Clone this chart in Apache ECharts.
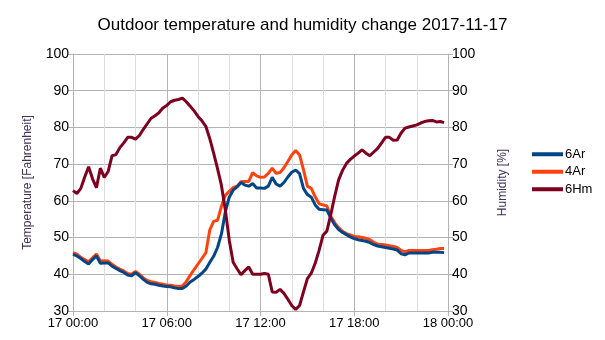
<!DOCTYPE html>
<html><head><meta charset="utf-8">
<script src="https://cdn.jsdelivr.net/npm/echarts@6/dist/echarts.min.js"></script>
<style>html,body{margin:0;padding:0;background:#fff}#c{width:605px;height:340px}</style>
</head><body><div id="c"></div>
<script>
var title = 'Outdoor temperature and humidity change 2017-11-17';
var seriesNames = ['6Ar', '4Ar', '6Hm'];
// sample times in hours since 2017-11-17 00:00 (15-minute readings)
var hours = [0,0.25,0.5,0.75,1,1.25,1.5,1.75,2,2.25,2.5,2.75,3,3.25,3.5,3.75,4,4.25,4.5,4.75,5,5.25,5.5,5.75,
  6,6.25,6.5,6.75,7,7.25,7.5,7.75,8,8.25,8.5,8.75,9,9.25,9.5,9.75,10,10.25,10.5,10.75,11,11.25,11.5,11.75,
  12,12.25,12.5,12.75,13,13.25,13.5,13.75,14,14.25,14.5,14.75,15,15.25,15.5,15.75,16,16.25,16.5,16.75,17,17.25,17.5,17.75,
  18,18.25,18.5,18.75,19,19.25,19.5,19.75,20,20.25,20.5,20.75,21,21.25,21.5,21.75,22,22.25,22.5,22.75,23,23.25,23.5,23.75];
var temp6Ar = [45.4,45.0,44.3,43.5,42.8,44.0,45.0,43.0,43.1,43.1,42.2,41.6,41.0,40.5,39.8,39.6,40.4,39.6,38.6,37.8,37.4,37.3,37.0,36.8,
  36.7,36.6,36.3,36.1,36.1,36.8,37.9,38.6,39.4,40.3,41.4,43.2,44.9,47.3,51.0,57.0,61.0,62.9,63.8,65.0,64.3,64.0,64.7,63.5,
  63.5,63.4,64.0,66.4,64.6,64.0,65.0,66.5,67.8,68.4,67.4,63.4,61.7,61.0,58.9,57.7,57.6,57.5,55.3,53.5,52.2,51.4,50.8,50.2,
  49.7,49.4,49.2,49.0,48.6,48.1,47.7,47.5,47.3,47.1,46.9,46.6,45.6,45.3,45.8,45.8,45.8,45.8,45.8,45.8,46.0,46.0,46.0,45.9];
var temp4Ar = [45.9,45.5,44.6,44.0,43.4,44.5,45.5,43.6,43.7,43.6,42.7,42.0,41.4,40.9,40.2,40.0,40.8,40.0,39.0,38.3,38.0,37.8,37.5,37.3,
  37.1,37.0,36.8,36.7,36.8,38.0,39.7,41.3,42.8,44.3,45.8,52.0,54.4,54.7,58.5,61.5,62.6,63.6,64.0,65.2,65.3,65.3,67.7,66.8,
  66.4,66.5,67.5,68.9,67.5,67.7,69.0,70.7,72.5,73.7,72.5,68.5,64.0,63.4,61.1,59.2,58.9,58.6,55.8,54.0,52.7,51.7,51.1,50.7,
  50.3,50.2,50.0,49.8,49.4,48.7,48.2,48.1,48.0,47.8,47.6,47.3,46.5,46.1,46.5,46.5,46.5,46.5,46.5,46.5,46.7,46.8,47.0,47.0];
var hum6Hm = [62.8,62.0,63.4,66.5,69.3,66.0,63.6,68.9,66.4,68.0,72.3,72.6,74.5,75.8,77.3,77.3,76.8,77.8,79.5,81.0,82.5,83.2,84.0,85.3,
  86.0,87.0,87.4,87.6,88.0,87.0,85.8,84.5,83.0,81.8,80.3,77.0,73.0,68.8,64.2,57.5,49.3,43.3,41.5,39.9,41.0,42.0,40.0,40.0,
  40.0,40.2,40.0,35.2,35.1,35.9,34.8,33.2,31.5,30.4,31.5,35.2,38.8,40.3,43.0,46.5,50.6,51.8,56.3,61.3,65.7,68.3,70.2,71.3,
  72.2,73.0,73.9,73.0,72.3,73.3,74.3,75.8,77.3,77.3,76.5,76.6,78.5,79.8,80.1,80.4,80.7,81.2,81.6,81.8,81.9,81.5,81.6,81.3];
var xLabels = {0:'17 00:00', 6:'17 06:00', 12:'17 12:00', 18:'17 18:00', 24:'18 00:00'};

function pairs(vals){ return vals.map(function(v,i){ return [hours[i], v]; }); }
var colors = ['#004586', '#ff420e', '#7e0021'];
var font = 'Liberation Sans, Arial, sans-serif';
var gridCol = '#b3b3b3';
function yAxis(name, pos){
  return {
    type:'value', position:pos, min:30, max:100, interval:10,
    name:name, nameLocation:'middle', nameRotate:90, nameGap: pos==='left'?39:49,
    nameTextStyle:{color:'#3f3157', fontSize:12, fontFamily:font},
    axisLine:{show:true, lineStyle:{color:gridCol, width:1}},
    axisTick:{show:true, length:5, lineStyle:{color:gridCol}},
    axisLabel:{color:'#000', fontSize:14, fontFamily:font, margin:4},
    splitLine:{show: pos==='left', lineStyle:{color:gridCol, width:1}}
  };
}
var chart = echarts.init(document.getElementById('c'), null, {renderer:'canvas'});
chart.setOption({
  animation:false,
  backgroundColor:'#fff',
  title:{text:title, left:'center', top:17, padding:0, textStyle:{fontSize:17, fontWeight:'normal', color:'#000', fontFamily:font}},
  legend:{orient:'vertical', left:532, top:147.5, padding:0, icon:'rect', itemWidth:31, itemHeight:4, itemGap:4,
    textStyle:{fontSize:13, color:'#000', fontFamily:font, lineHeight:13.5, padding:[0,0,0,-3]},
    data:seriesNames},
  grid:{left:73, right:157, top:54, bottom:29, containLabel:false},
  xAxis:{type:'value', min:0, max:24, interval:6,
    axisLine:{show:true, onZero:false, lineStyle:{color:gridCol}},
    axisTick:{show:true, length:5, lineStyle:{color:gridCol}},
    axisLabel:{color:'#000', fontSize:13, fontFamily:font, margin:6, formatter:function(v){ return xLabels[v] || ''; }},
    splitLine:{show:true, lineStyle:{color:gridCol}},
    minorTick:{show:false, splitNumber:3},
    minorSplitLine:{show:true, lineStyle:{color:'#dddddd'}}
  },
  yAxis:[yAxis('Temperature [Fahrenheit]','left'), yAxis('Humidity [%]','right')],
  series:[
    {name:seriesNames[0], type:'line', data:pairs(temp6Ar), yAxisIndex:0, showSymbol:false, symbol:'none', z:3,
      lineStyle:{color:colors[0], width:3}, itemStyle:{color:colors[0]}},
    {name:seriesNames[1], type:'line', data:pairs(temp4Ar), yAxisIndex:0, showSymbol:false, symbol:'none', z:2,
      lineStyle:{color:colors[1], width:3}, itemStyle:{color:colors[1]}},
    {name:seriesNames[2], type:'line', data:pairs(hum6Hm), yAxisIndex:1, showSymbol:false, symbol:'none', z:4,
      lineStyle:{color:colors[2], width:3}, itemStyle:{color:colors[2]}}
  ]
});
</script></body></html>
